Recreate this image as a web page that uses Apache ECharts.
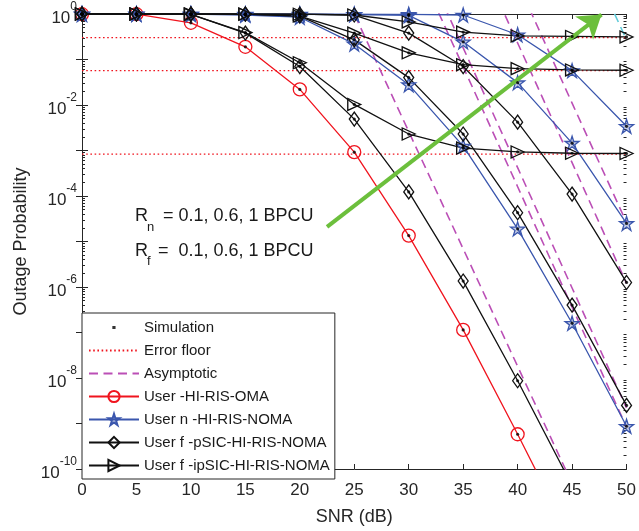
<!DOCTYPE html>
<html><head><meta charset="utf-8">
<script src="https://cdn.jsdelivr.net/npm/echarts@6/dist/echarts.min.js"></script>
<style>html,body{margin:0;padding:0;background:#fff}#c{width:639px;height:531px}</style>
</head><body><div id="c"></div>
<script>
// ---------------- data ----------------
const snr = [0, 5, 10, 15, 20, 25, 30, 35, 40, 45, 50];
const xTicks = [0, 5, 10, 15, 20, 25, 30, 35, 40, 45, 50];
const yLabelValues = [1e-10, 1e-8, 1e-6, 1e-4, 1e-2, 1];

// User OMA (red circles)
const omaUser = [0.99, 0.99, 0.64, 0.19, 0.022, 9.2e-4, 1.35e-5, 1.14e-7, 5.8e-10, 2.5e-12, null];
// User n NOMA (blue stars), R = 0.1, 0.6, 1
const userN_1 = [1, 1, 0.99, 0.95, 0.85, 0.22, 0.028, 1.25e-3, 1.9e-5, 1.6e-7, 8.7e-10];
const userN_2 = [1, 1, 1, 0.99, 0.98, 0.97, 0.93, 0.245, 0.031, 1.45e-3, 2.5e-5];
const userN_3 = [1, 1, 1, 1, 1, 0.99, 0.98, 0.95, 0.35, 0.057, 3.4e-3];
// User f pSIC (black diamonds)
const userFp_1 = [1, 1, 0.98, 0.38, 0.07, 4.9e-3, 1.23e-4, 1.35e-6, 8.7e-9, 4.3e-11, null];
const userFp_2 = [1, 1, 1, 0.99, 0.9, 0.27, 0.04, 2.3e-3, 4.3e-5, 4e-7, 2.5e-9];
const userFp_3 = [1, 1, 1, 1, 0.99, 0.95, 0.38, 0.07, 4.2e-3, 1.1e-4, 1.26e-6];
// User f ipSIC (black right triangles)
const userFi_1 = [1, 1, 0.98, 0.39, 0.085, 0.0103, 2.3e-3, 1.13e-3, 9.3e-4, 8.7e-4, 8.6e-4];
const userFi_2 = [1, 1, 1, 0.99, 0.9, 0.38, 0.14, 0.077, 0.063, 0.059, 0.058];
const userFi_3 = [1, 1, 1, 1, 0.99, 0.95, 0.67, 0.40, 0.33, 0.322, 0.314];
// Error floors
const errorFloors = [0.304, 0.0569, 8.3e-4];
// Asymptotic lines
const asymFp_1 = [null, null, null, null, 380, 1, 2.6e-3, 6.9e-6, 1.8e-8, 4.8e-11, null];
const asymN_1 = [null, null, null, null, null, null, 30, 6.9e-2, 1.6e-4, 3.6e-7, 8.3e-10];
const asymFp_2 = [null, null, null, null, null, null, 79, 0.18, 4.2e-4, 9.5e-7, 2.2e-9];
const asymN_2 = [null, null, null, null, null, null, null, null, 4.9, 1.1e-2, 2.6e-5];
const asymFp_3 = [null, null, null, null, null, null, null, 100, 0.23, 5.4e-4, 1.2e-6];
const asymN_3 = [null, null, null, null, null, null, null, null, null, 107, 0.27];
// Annotation arrow (data coordinates)
const arrowFrom = [22.5, 2.1e-5];
const arrowTo = [47.7, 0.97];

// ---------------- helpers ----------------
const FONT = 'Liberation Sans, Arial, Helvetica, sans-serif';
const RED = '#f0141e', BLUE = '#3a56ad', BLACK = '#111111', MAG = '#bb4fb6', CYAN = '#5fcbd9', GREEN = '#6cbf3c';
const STAR = 'path://M50,2 L61.2,36.5 L97.6,36.5 L68.2,57.9 L79.4,92.5 L50,71.1 L20.6,92.5 L31.8,57.9 L2.4,36.5 L38.8,36.5 Z';
const YMIN = 1e-10, YMAX = 1;

function pts(vals) {
  const out = [];
  vals.forEach((v, i) => { if (v != null) out.push([snr[i], v]); });
  return out;
}
function curve(name, vals, color, symbol, size, fill, rotate) {
  return {
    type: 'line', name: name, data: pts(vals), clip: true, z: 3,
    symbol: symbol, symbolSize: size, symbolRotate: rotate || 0, showSymbol: true,
    lineStyle: { color: color, width: 1.3 },
    itemStyle: { color: fill, borderColor: color, borderWidth: 1.3 },
    emphasis: { disabled: true }, animation: false
  };
}
function plain(name, data, color, type, width) {
  return {
    type: 'line', name: name, data: data, clip: true, z: 2, symbol: 'none', showSymbol: false,
    lineStyle: { color: color, width: width, type: type },
    itemStyle: { color: color },
    emphasis: { disabled: true }, animation: false
  };
}

const series = [];
// Simulation dots (collected from all simulated curves)
const simCurves = [omaUser, userN_1, userN_2, userN_3, userFp_1, userFp_2, userFp_3, userFi_1, userFi_2, userFi_3];
const simData = [];
simCurves.forEach(c => pts(c).forEach(p => { if (p[1] >= YMIN && p[1] <= YMAX) simData.push(p); }));
series.push({ type: 'scatter', name: 'Simulation', data: simData, symbol: 'circle', symbolSize: 3.2,
  itemStyle: { color: '#000' }, z: 5, emphasis: { disabled: true }, animation: false });

errorFloors.forEach(v => series.push(plain('Error floor', [[0, v], [50, v]], RED, [1.6, 2.6], 1.3)));
[asymFp_1, asymN_1, asymFp_2, asymN_2, asymFp_3].forEach(a => series.push(plain('Asymptotic', pts(a), MAG, [9, 5.5], 1.6)));
series.push(plain('Asymptotic', pts(asymN_3), CYAN, [9, 5.5], 1.6));

const hollow = 'rgba(255,255,255,0)';
series.push(curve('User -HI-RIS-OMA', omaUser, RED, 'circle', 13, hollow));
[userN_1, userN_2, userN_3].forEach(v => series.push(curve('User n -HI-RIS-NOMA', v, BLUE, STAR, 14, 'rgba(58,86,173,0.3)')));
[userFp_1, userFp_2, userFp_3].forEach(v => series.push(curve('User f -pSIC-HI-RIS-NOMA', v, BLACK, 'diamond', [10, 14], hollow)));
[userFi_1, userFi_2, userFi_3].forEach(v => series.push(curve('User f -ipSIC-HI-RIS-NOMA', v, BLACK, 'triangle', [12, 13], hollow, -90)));

// arrow annotation
series.push({
  type: 'line', name: 'arrow', data: [], silent: true, z: 6,
  itemStyle: { color: GREEN }, lineStyle: { color: GREEN },
  markLine: {
    silent: true, animation: false, symbol: ['none', 'arrow'], symbolSize: 22,
    label: { show: false }, emphasis: { disabled: true },
    itemStyle: { color: GREEN },
    lineStyle: { color: GREEN, width: 4, type: 'solid' },
    data: [[{ coord: arrowFrom }, { coord: arrowTo }]]
  }
});

// ticks
const decades = [];
for (let e = -10; e <= 0; e++) decades.push(Math.pow(10, e));
const minors = [];
for (let e = -10; e < 0; e++) for (let m = 2; m <= 9; m++) minors.push(m * Math.pow(10, e));

const axisLineStyle = { color: '#262626', width: 1 };
function yAx(pos, tickVals, len, showLine, labels) {
  return {
    type: 'log', logBase: 10, min: YMIN, max: YMAX, position: pos, gridIndex: 0,
    axisLine: { show: showLine, lineStyle: axisLineStyle },
    axisTick: { show: true, inside: true, length: len, customValues: tickVals, lineStyle: axisLineStyle },
    axisLabel: labels ? {
      show: true, customValues: yLabelValues, margin: 5,
      formatter: v => '{b|10}{s|' + Math.round(Math.log10(v)) + '}',
      rich: { b: { fontSize: 17, fontFamily: FONT, color: '#262626', lineHeight: 26, verticalAlign: 'bottom' },
              s: { fontSize: 12, fontFamily: FONT, color: '#262626', lineHeight: 13, verticalAlign: 'top' } }
    } : { show: false },
    splitLine: { show: false }, minorTick: { show: false },
    name: labels ? 'Outage Probability' : '', nameLocation: 'middle', nameGap: 52,
    nameTextStyle: { fontSize: 18, fontFamily: FONT, color: '#262626' }
  };
}
function xAx(pos, labels) {
  return {
    type: 'value', min: 0, max: 50, interval: 5, position: pos, gridIndex: 0,
    axisLine: { show: true, onZero: false, lineStyle: axisLineStyle },
    axisTick: { show: true, inside: true, length: 5, lineStyle: axisLineStyle },
    axisLabel: labels ? { show: true, fontSize: 17, fontFamily: FONT, color: '#262626', margin: 13 } : { show: false },
    splitLine: { show: false },
    name: labels ? 'SNR (dB)' : '', nameLocation: 'middle', nameGap: 39,
    nameTextStyle: { fontSize: 18, fontFamily: FONT, color: '#262626' }
  };
}

const chart = echarts.init(document.getElementById('c'), null, { renderer: 'canvas' });
chart.setOption({
  backgroundColor: '#ffffff',
  animation: false,
  grid: { left: 82, right: 7, top: 14, bottom: 59, containLabel: false },
  xAxis: [xAx('bottom', true), xAx('top', false)],
  yAxis: [yAx('left', decades, 6, true, true), yAx('right', decades, 6, true, false),
          yAx('left', minors, 3, false, false), yAx('right', minors, 3, false, false)],
  legend: {
    orient: 'vertical', left: 82, top: 313, itemWidth: 50, itemHeight: 14, itemGap: 8,
    padding: [7, 5, 6, 6], backgroundColor: '#ffffff', borderColor: '#262626', borderWidth: 1,
    borderRadius: 0, selectedMode: false,
    textStyle: { fontSize: 15, fontFamily: FONT, color: '#1a1a1a', padding: [0, 0, 0, 0] },
    data: [
      { name: 'Simulation', icon: 'path://M0,0L0.1,0M50,14L50.1,14M23.4,5.4L26.6,5.4L26.6,8.6L23.4,8.6Z' },
      { name: 'Error floor', itemStyle: { opacity: 0 } },
      { name: 'Asymptotic', itemStyle: { opacity: 0 } },
      'User -HI-RIS-OMA', 'User n -HI-RIS-NOMA', 'User f -pSIC-HI-RIS-NOMA', 'User f -ipSIC-HI-RIS-NOMA'
    ]
  },
  graphic: [
    { type: 'text', left: 135, top: 207, style: { text: 'R', font: '18px ' + FONT, fill: '#1a1a1a' } },
    { type: 'text', left: 147, top: 221, style: { text: 'n', font: '13px ' + FONT, fill: '#1a1a1a' } },
    { type: 'text', left: 163, top: 207, style: { text: '= 0.1, 0.6, 1 BPCU', font: '18px ' + FONT, fill: '#1a1a1a' } },
    { type: 'text', left: 135, top: 242, style: { text: 'R', font: '18px ' + FONT, fill: '#1a1a1a' } },
    { type: 'text', left: 147, top: 255, style: { text: 'f', font: '13px ' + FONT, fill: '#1a1a1a' } },
    { type: 'text', left: 158, top: 242, style: { text: '=  0.1, 0.6, 1 BPCU', font: '18px ' + FONT, fill: '#1a1a1a' } }
  ],
  series: series
});
</script></body></html>
